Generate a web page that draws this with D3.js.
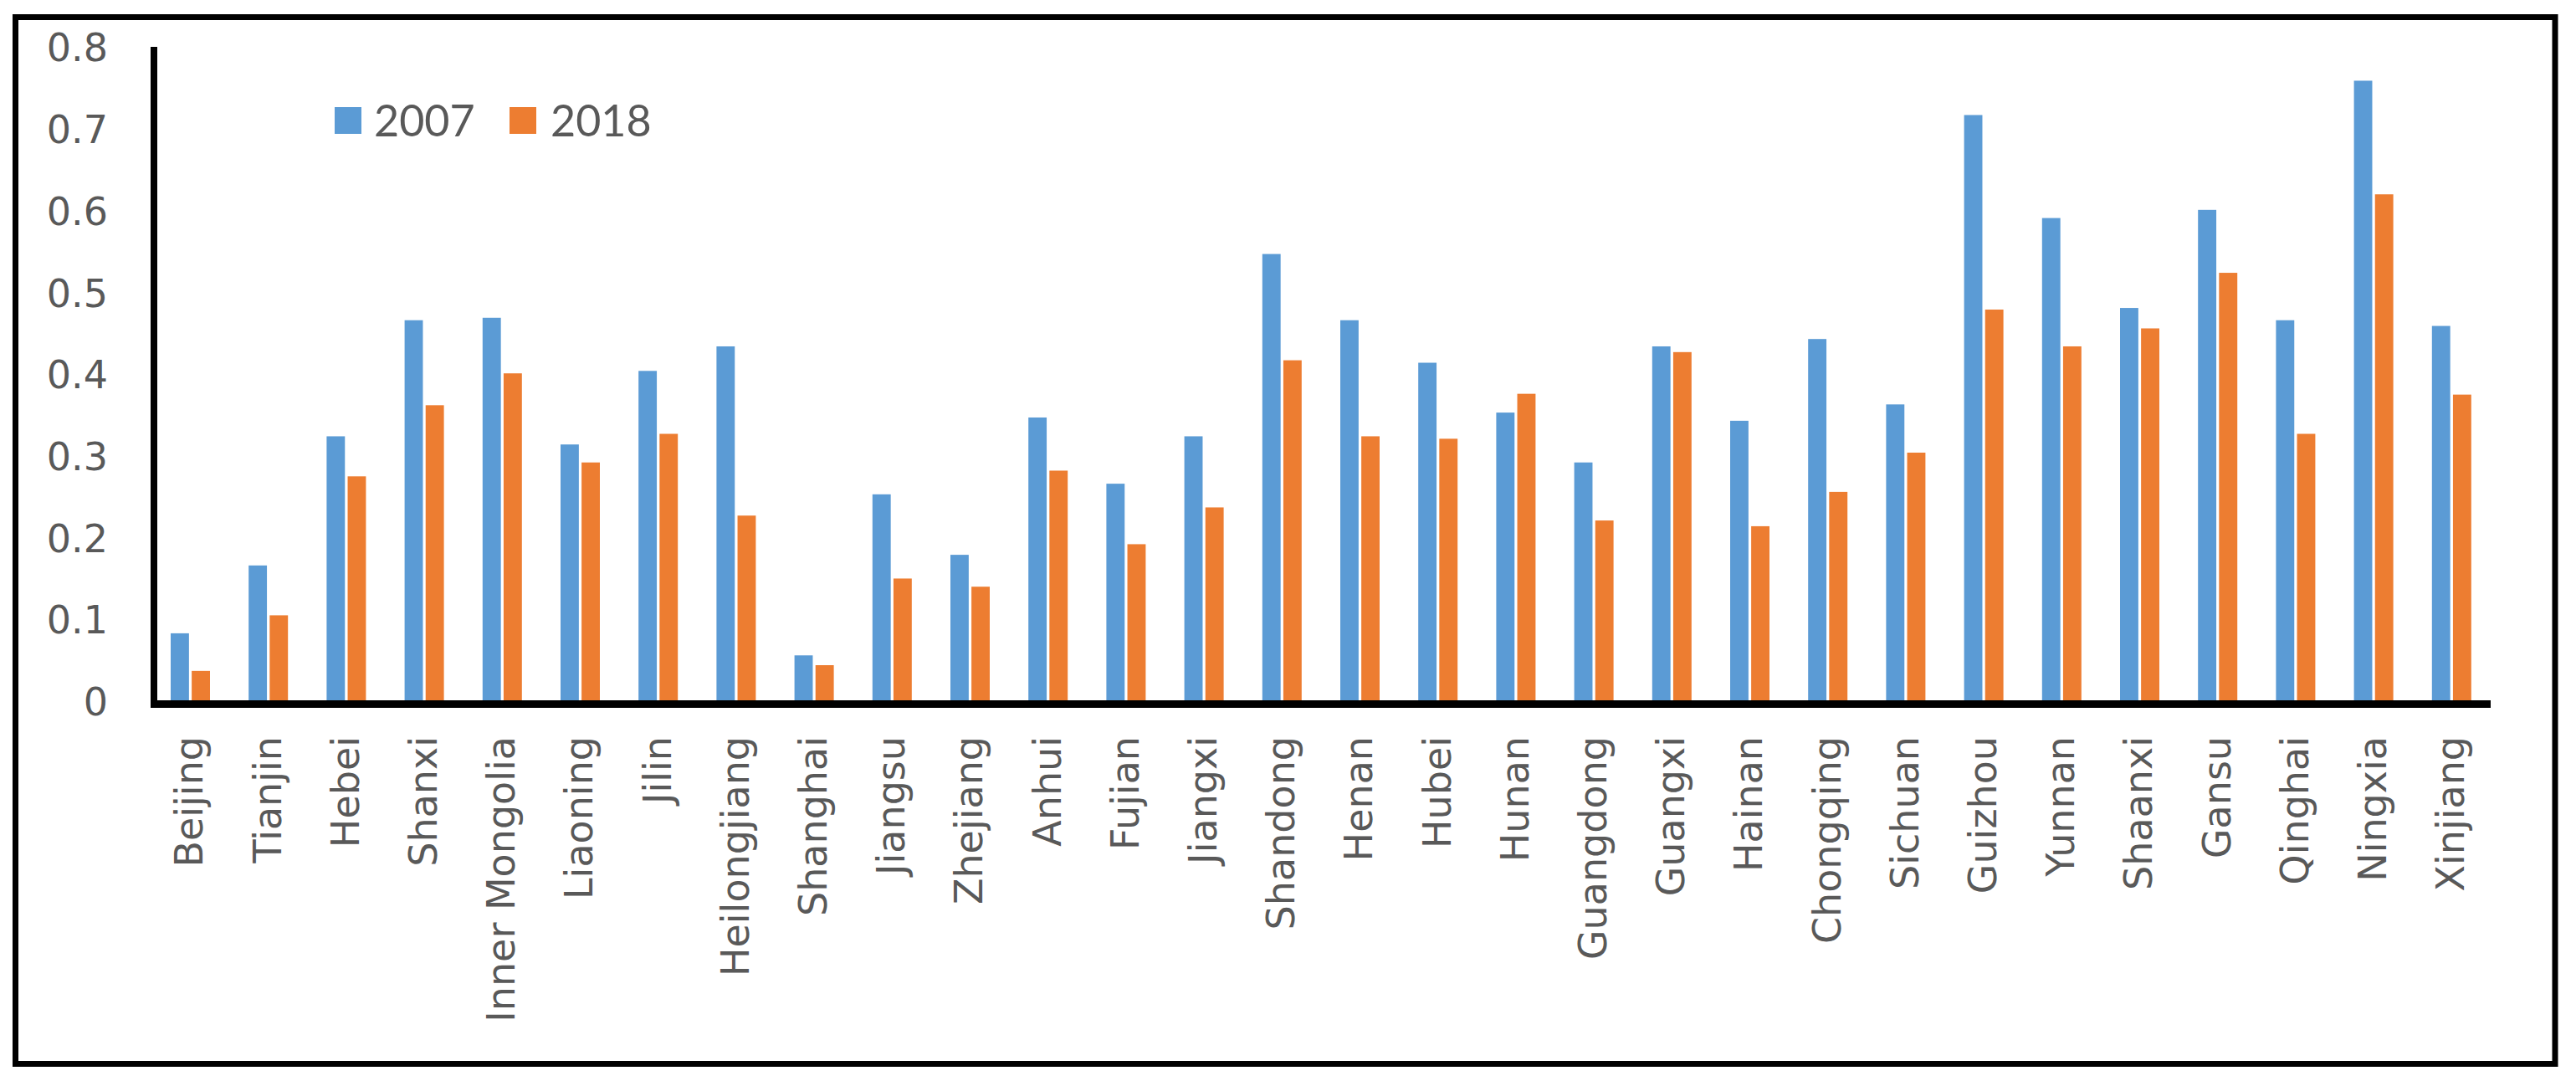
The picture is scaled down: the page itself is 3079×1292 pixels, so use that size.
<!DOCTYPE html>
<html>
<head>
<meta charset="utf-8">
<script src="https://cdn.jsdelivr.net/npm/d3@7"></script>
<style>
  html, body { margin: 0; padding: 0; background: #ffffff; }
  svg { display: block; }
</style>
</head>
<body>
<svg id="chart" width="3079" height="1292"></svg>
<script>
const categories = ["Beijing","Tianjin","Hebei","Shanxi","Inner Mongolia","Liaoning","Jilin","Heilongjiang","Shanghai","Jiangsu","Zhejiang","Anhui","Fujian","Jiangxi","Shandong","Henan","Hubei","Hunan","Guangdong","Guangxi","Hainan","Chongqing","Sichuan","Guizhou","Yunnan","Shaanxi","Gansu","Qinghai","Ningxia","Xinjiang"];
const values2007 = [0.083,0.166,0.324,0.466,0.469,0.314,0.404,0.434,0.056,0.253,0.179,0.347,0.266,0.324,0.547,0.466,0.414,0.353,0.292,0.434,0.343,0.443,0.363,0.717,0.591,0.481,0.601,0.466,0.759,0.459];
const values2018 = [0.037,0.105,0.275,0.362,0.401,0.292,0.327,0.227,0.044,0.150,0.140,0.282,0.192,0.237,0.417,0.324,0.321,0.376,0.221,0.427,0.214,0.256,0.304,0.479,0.434,0.456,0.524,0.327,0.620,0.375];
const seriesNames = ["2007","2018"];
const seriesColors = ["#5B9BD5","#ED7D31"];
const tickValues = [0,0.1,0.2,0.3,0.4,0.5,0.6,0.7,0.8];
const tickLabels = ["0","0.1","0.2","0.3","0.4","0.5","0.6","0.7","0.8"];

const svg = d3.select("#chart");
const textColor = "#595959";

// outer frame
svg.append("rect")
  .attr("x", 18.5).attr("y", 20.5)
  .attr("width", 3035.5).attr("height", 1251)
  .attr("fill", "#fff").attr("stroke", "#000").attr("stroke-width", 7);

const plotLeft = 182, plotRight = 2978, plotBottom = 838, plotTop = 56.4;

const x = d3.scaleBand().domain(categories).range([plotLeft, plotRight]).paddingInner(0).paddingOuter(0);
const x1 = d3.scaleBand().domain(seriesNames).range([22, 69]).paddingInner(0.13).paddingOuter(0);
const y = d3.scaleLinear().domain([0, 0.8]).range([plotBottom, plotTop]);

const data = categories.map((c, i) => ({ cat: c, vals: [values2007[i], values2018[i]] }));

// bars
const groups = svg.append("g").selectAll("g").data(data).join("g")
  .attr("transform", d => `translate(${x(d.cat)},0)`);
groups.selectAll("rect").data(d => d.vals.map((v, j) => ({ v, s: seriesNames[j], c: seriesColors[j] })))
  .join("rect")
  .attr("x", d => x1(d.s))
  .attr("width", x1.bandwidth())
  .attr("y", d => y(d.v))
  .attr("height", d => y(0) - y(d.v))
  .attr("fill", d => d.c);

// y axis (labels via d3 axis)
const yAxis = d3.axisLeft(y).tickValues(tickValues).tickFormat((d, i) => tickLabels[i]).tickSize(0).tickPadding(0);
const yg = svg.append("g").attr("transform", "translate(129,0)").call(yAxis);
yg.select(".domain").remove();
yg.selectAll("text")
  .attr("font-family", "DejaVu Sans, Verdana, sans-serif")
  .attr("font-size", 46)
  .attr("fill", textColor)
  .attr("x", 0)
  .attr("dy", "0.36em");

// axis lines
svg.append("line").attr("x1", 184).attr("x2", 184).attr("y1", 56).attr("y2", 846)
  .attr("stroke", "#000").attr("stroke-width", 8);
svg.append("line").attr("x1", 180).attr("x2", 2977).attr("y1", 841.5).attr("y2", 841.5)
  .attr("stroke", "#000").attr("stroke-width", 9);

// category labels
const xAxis = d3.axisBottom(x).tickSize(0).tickPadding(0);
const xg = svg.append("g").attr("transform", "translate(0,880)").call(xAxis);
xg.select(".domain").remove();
xg.selectAll("text")
  .attr("font-family", "DejaVu Sans, Verdana, sans-serif")
  .attr("font-size", 46)
  .attr("fill", textColor)
  .attr("text-anchor", "end")
  .attr("x", 0).attr("y", 0)
  .attr("dy", "0.3em")
  .attr("transform", "rotate(-90)");

// legend
const legendPos = [{ sx: 400, tx: 447 }, { sx: 609, tx: 658 }];
const lg = svg.append("g");
seriesNames.forEach((s, i) => {
  lg.append("rect").attr("x", legendPos[i].sx).attr("y", 128).attr("width", 32).attr("height", 32)
    .attr("fill", seriesColors[i]);
  lg.append("text").attr("x", legendPos[i].tx).attr("y", 162.5)
    .attr("font-family", "Lato, Carlito, Calibri, sans-serif")
    .attr("font-size", 52)
    .attr("fill", textColor)
    .text(s);
});
</script>
</body>
</html>
